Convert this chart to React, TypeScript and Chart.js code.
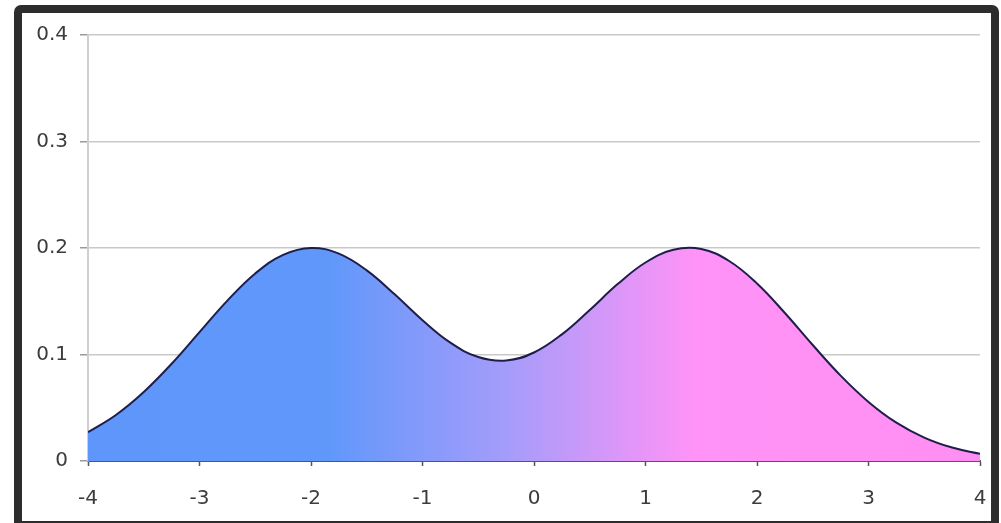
import React, { useEffect, useRef } from "react";
import { Chart, registerables } from "chart.js";

Chart.register(...registerables);

const xValues = [-4, -3.75, -3.5, -3.25, -3, -2.75, -2.5, -2.25, -2, -1.75, -1.5, -1.25, -1, -0.75, -0.5, -0.25, 0, 0.25, 0.5, 0.75, 1, 1.25, 1.5, 1.75, 2, 2.25, 2.5, 2.75, 3, 3.25, 3.5, 3.75, 4];
const densityValues = [0.027, 0.0432, 0.0648, 0.0913, 0.121, 0.1506, 0.1761, 0.1936, 0.2001, 0.1947, 0.179, 0.1565, 0.1322, 0.1111, 0.0976, 0.0943, 0.1019, 0.1189, 0.1418, 0.1661, 0.1864, 0.1983, 0.199, 0.1878, 0.1667, 0.139, 0.1089, 0.0802, 0.0555, 0.036, 0.022, 0.0126, 0.0068];
const xTicks = [-4, -3, -2, -1, 0, 1, 2, 3, 4];
const yTicks = [0, 0.1, 0.2, 0.3, 0.4];

export default function App() {
  const canvasRef = useRef<HTMLCanvasElement | null>(null);

  useEffect(() => {
    const canvas = canvasRef.current;
    if (!canvas) return;
    const points = xValues.map((x, i) => ({ x, y: densityValues[i] }));
    const font = { family: "'DejaVu Sans', Verdana, sans-serif", size: 20 };
    const chart = new Chart(canvas, {
      type: "line",
      data: {
        datasets: [
          {
            data: points,
            borderColor: "#1f1d4a",
            borderWidth: 2,
            pointRadius: 0,
            tension: 0.4,
            fill: "origin",
            backgroundColor: (ctx: any) => {
              const area = ctx.chart.chartArea;
              if (!area) return "#7fa0fa";
              const g = ctx.chart.ctx.createLinearGradient(area.left, 0, area.right, 0);
              g.addColorStop(0, "#5f96fb");
              g.addColorStop(0.27, "#6098fa");
              g.addColorStop(0.47, "#a59cfa");
              g.addColorStop(0.68, "#ff93f7");
              g.addColorStop(1, "#ff8ef2");
              return g;
            },
          },
        ],
      },
      options: {
        animation: false,
        responsive: false,
        maintainAspectRatio: false,
        layout: { padding: { left: 0, top: 35, right: 21, bottom: 0 } },
        plugins: { legend: { display: false }, tooltip: { enabled: false } },
        scales: {
          x: {
            type: "linear",
            min: -4,
            max: 4,
            afterBuildTicks: (scale: any) => {
              scale.ticks = xTicks.map((v) => ({ value: v }));
            },
            afterFit: (scale: any) => {
              scale.height = 62;
              scale.paddingLeft = 0;
              scale.paddingRight = 0;
            },
            grid: {
              drawOnChartArea: false,
              drawTicks: true,
              tickLength: 5,
              tickColor: "#555555",
              tickWidth: 1.5,
            },
            border: { display: true, color: "rgba(40,30,90,0.75)", width: 2 },
            ticks: {
              font,
              color: "#3c3c3c",
              padding: 21,
              callback: (v: any) => String(v),
            },
          },
          y: {
            type: "linear",
            min: 0,
            max: 0.4,
            afterBuildTicks: (scale: any) => {
              scale.ticks = yTicks.map((v) => ({ value: v }));
            },
            afterFit: (scale: any) => {
              scale.width = 88;
              scale.paddingTop = 0;
              scale.paddingBottom = 0;
            },
            grid: {
              color: "#c9c9c9",
              lineWidth: 1.5,
              drawTicks: true,
              tickLength: 8,
              tickColor: "#9a9a9a",
            },
            border: { display: true, color: "#cfcfcf", width: 2 },
            ticks: {
              font,
              color: "#3c3c3c",
              padding: 12,
              callback: (v: any) => String(Math.round(Number(v) * 10) / 10),
            },
          },
        },
      },
    });
    return () => chart.destroy();
  }, []);

  return (
    <div style={{ position: "fixed", left: 0, top: 0, width: 1001, height: 523, background: "#ffffff", overflow: "hidden" }}>
      <div
        style={{
          position: "absolute",
          left: 14,
          top: 5,
          width: 985,
          height: 524,
          boxSizing: "border-box",
          border: "8px solid #2d2d2d",
          borderRadius: 7,
          background: "#ffffff",
        }}
      />
      <canvas ref={canvasRef} width={1001} height={523} style={{ position: "absolute", left: 0, top: 0, width: 1001, height: 523 }} />
    </div>
  );
}
